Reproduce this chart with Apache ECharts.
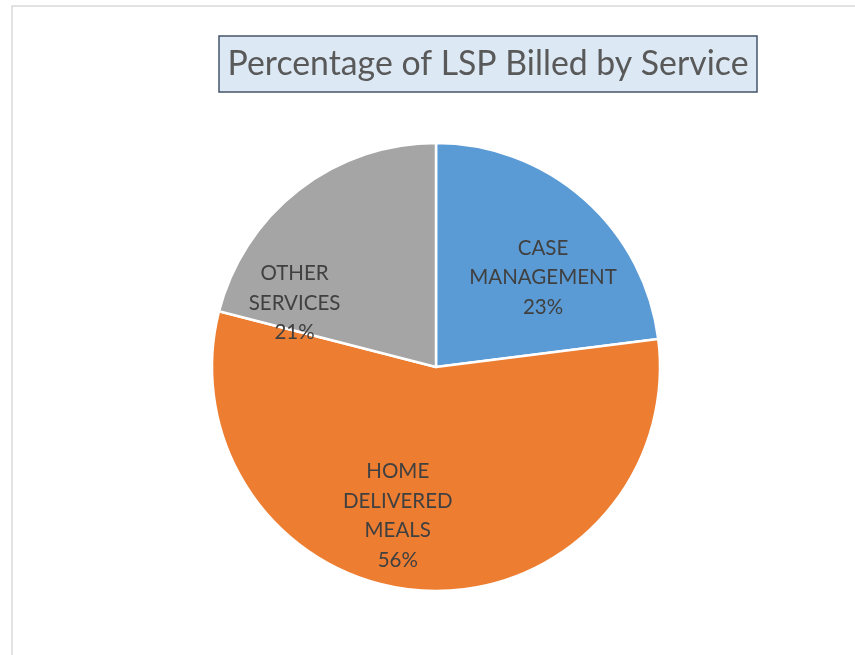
<!DOCTYPE html>
<html>
<head>
<meta charset="utf-8">
<script src="https://cdn.jsdelivr.net/npm/echarts@6/dist/echarts.min.js"></script>
<style>
  html, body { margin: 0; padding: 0; background: #fff; }
  #chart { width: 855px; height: 655px; }
</style>
</head>
<body>
<div id="chart"></div>
<script>
var services = ["CASE\nMANAGEMENT", "HOME\nDELIVERED\nMEALS", "OTHER\nSERVICES"];
var shares = [23, 56, 21];
var colors = ["#5b9bd5", "#ed7d31", "#a5a5a5"];
// nudges so labels sit where Excel puts them
var labelShift = [[31, -3], [-31, 34], [-71, 27]];

var myChart = echarts.init(document.getElementById("chart"));
myChart.setOption({
  animation: false,
  graphic: [
    {
      type: "rect",
      shape: { x: 12, y: 6, width: 900, height: 700 },
      style: { fill: "#fff", stroke: "#d9d9d9", lineWidth: 1.5 },
      z: -10,
    },
    {
      type: "rect",
      shape: { x: 219, y: 36, width: 538, height: 56 },
      style: { fill: "#dce9f5", stroke: "#44546a", lineWidth: 1.5 },
      z: 1,
    },
    {
      type: "text",
      x: 488,
      y: 64,
      style: {
        text: "Percentage of LSP Billed by Service",
        font: "33.8px Lato",
        fill: "#595959",
        align: "center",
        verticalAlign: "middle",
      },
      z: 2,
    },
  ],
  series: [
    {
      type: "pie",
      center: [436, 367],
      radius: [0, 224],
      startAngle: 90,
      clockwise: true,
      itemStyle: { borderColor: "#fff", borderWidth: 2.5 },
      label: {
        show: true,
        position: "inner",
        formatter: function (p) {
          return p.name + "\n" + p.value + "%";
        },
        fontFamily: "Lato",
        fontSize: 20.5,
        lineHeight: 29.5,
        color: "#404040",
        align: "center",
      },
      labelLine: { show: false },
      labelLayout: function (p) {
        return { dx: labelShift[p.dataIndex][0], dy: labelShift[p.dataIndex][1] };
      },
      emphasis: { disabled: true },
      data: services.map(function (s, i) {
        return { name: s, value: shares[i], itemStyle: { color: colors[i] } };
      }),
    },
  ],
});
</script>
</body>
</html>
